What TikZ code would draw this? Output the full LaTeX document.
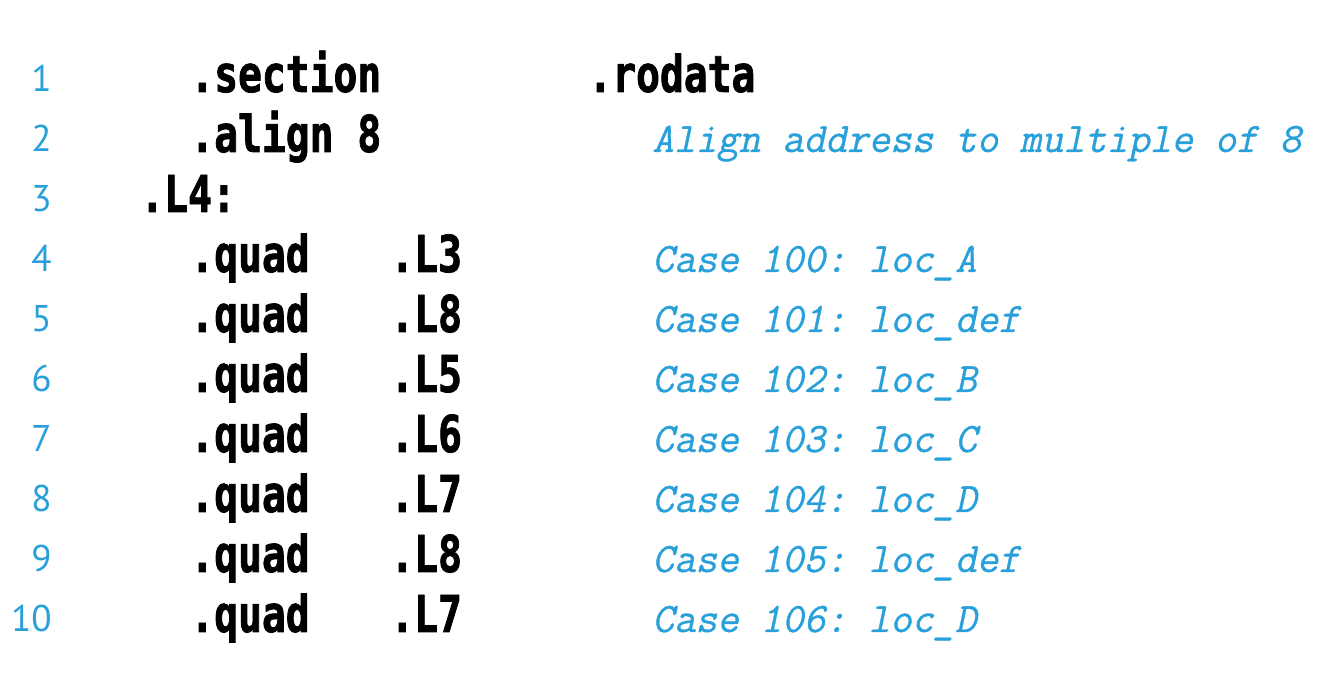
\documentclass[tikz,border=0pt]{standalone}
\usepackage{fontspec}
\usepackage{xcolor}
\usepackage{tikz}
\newfontfamily\codefont[FakeStretch=0.78,FakeBold=1.5]{DejaVu Sans Mono}
\newfontfamily\numfont{PT Sans}
\newfontfamily\notefont[FakeSlant=0.21,FakeBold=0.8]{Latin Modern Mono}
\definecolor{listblue}{RGB}{41,160,218}

\begin{document}
\begin{tikzpicture}[x=0.5pt, y=-0.5pt,
  lineno/.style={anchor=base east, inner sep=0pt, text=listblue, font=\numfont\fontsize{18.6}{22}\selectfont},
  code/.style={anchor=base west, inner sep=0pt, font=\codefont\bfseries\fontsize{25.4}{30}\selectfont},
  comment/.style={anchor=base west, inner sep=0pt, text=listblue, font=\notefont\frenchspacing\fontsize{21}{24}\selectfont}]
\useasboundingbox (0,0) rectangle (1340,678);

\node[lineno] (n1) at (52,92) {1};
\node[lineno] (n2) at (52,152) {2};
\node[lineno] (n3) at (52,212) {3};
\node[lineno] (n4) at (52,272) {4};
\node[lineno] (n5) at (52,332) {5};
\node[lineno] (n6) at (52,392) {6};
\node[lineno] (n7) at (52,452) {7};
\node[lineno] (n8) at (52,512) {8};
\node[lineno] (n9) at (52,572) {9};
\node[lineno] (n10) at (52,632) {10};

\node[code] (section) at (190,92) {.section};
\node[code] (rodata) at (588,92) {.rodata};
\node[code] (align) at (190,152) {.align 8};
\node[code] (label) at (140,212) {.L4:};

\node[code] (q1) at (190,272) {.quad};
\node[code] (q2) at (190,332) {.quad};
\node[code] (q3) at (190,392) {.quad};
\node[code] (q4) at (190,452) {.quad};
\node[code] (q5) at (190,512) {.quad};
\node[code] (q6) at (190,572) {.quad};
\node[code] (q7) at (190,632) {.quad};

\node[code] (t1) at (390,272) {.L3};
\node[code] (t2) at (390,332) {.L8};
\node[code] (t3) at (390,392) {.L5};
\node[code] (t4) at (390,452) {.L6};
\node[code] (t5) at (390,512) {.L7};
\node[code] (t6) at (390,572) {.L8};
\node[code] (t7) at (390,632) {.L7};

\node[comment] (calign) at (652,152) {Align address to multiple of 8};
\node[comment] (c1) at (652,272) {Case 100: loc\_A};
\node[comment] (c2) at (652,332) {Case 101: loc\_def};
\node[comment] (c3) at (652,392) {Case 102: loc\_B};
\node[comment] (c4) at (652,452) {Case 103: loc\_C};
\node[comment] (c5) at (652,512) {Case 104: loc\_D};
\node[comment] (c6) at (652,572) {Case 105: loc\_def};
\node[comment] (c7) at (652,632) {Case 106: loc\_D};
\end{tikzpicture}
\end{document}
